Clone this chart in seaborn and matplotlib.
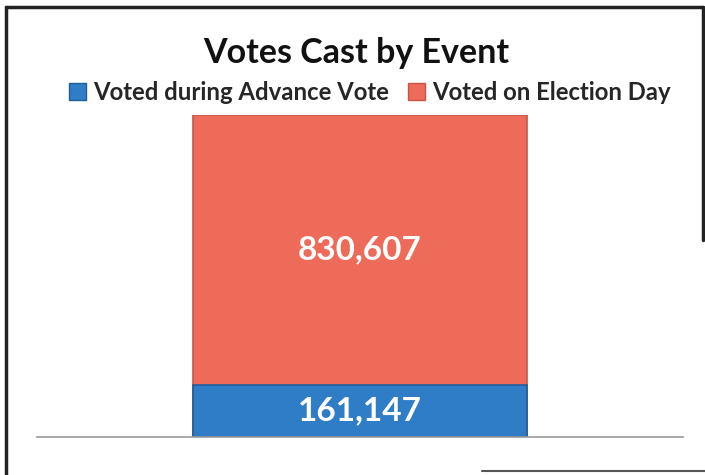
import pandas as pd
import matplotlib
matplotlib.use("Agg")
import matplotlib.pyplot as plt
import seaborn as sns
from matplotlib.patches import Patch

# data
series = ["Voted during Advance Vote", "Voted on Election Day"]
votes = [161147, 830607]
colors = ["#2F7DC6", "#EE6A59"]
edge_colors = ["#1F5E9A", "#C4564A"]

sns.set_theme(style="white")
plt.rcParams['font.family'] = ['Lato', 'DejaVu Sans']

total = sum(votes)
df = pd.DataFrame({"event": ["All"], "advance": [votes[0]], "total": [total]})

fig = plt.figure(figsize=(7.05, 4.75), dpi=100)
fig.patch.set_facecolor("white")
ax = fig.add_axes([37 / 705, (475 - 437) / 475, 646 / 705, 322 / 475])

# stacked bar: full total in red, advance vote on top of it in blue
sns.barplot(data=df, x="event", y="total", color=colors[1], width=0.517,
            edgecolor=edge_colors[1], linewidth=1.2, saturation=1, ax=ax)
sns.barplot(data=df, x="event", y="advance", color=colors[0], width=0.517,
            edgecolor=edge_colors[0], linewidth=1.2, saturation=1, ax=ax)

ax.set_xlim(-0.5, 0.5)
ax.set_ylim(0, total)
ax.set_xlabel("")
ax.set_ylabel("")
ax.set_xticks([])
ax.set_yticks([])
for s in ["top", "left", "right"]:
    ax.spines[s].set_visible(False)
ax.spines["bottom"].set_color("#9A9A9A")
ax.spines["bottom"].set_linewidth(1.2)
ax.set_facecolor("white")

# value labels
ax.text(0, votes[0] / 2, f"{votes[0]:,}", ha="center", va="center",
        color="white", fontsize=24, fontweight="bold")
ax.text(0, votes[0] + votes[1] / 2, f"{votes[1]:,}", ha="center", va="center",
        color="white", fontsize=24, fontweight="bold")

fig.text(0.506, 1 - 53 / 475, "Votes Cast by Event", ha="center", va="center",
         fontsize=24.5, fontweight="bold", color="#111111")

handles = [Patch(facecolor=c, edgecolor=e) for c, e in zip(colors, edge_colors)]
fig.legend(handles, series, loc="center", bbox_to_anchor=(0.525, 1 - 92 / 475),
           ncol=2, frameon=False, handlelength=0.7,
           handleheight=0.7, handletextpad=0.3, columnspacing=0.8,
           prop={"weight": "bold", "size": 17.2})

# scanned frame around the chart
frame = dict(color="#222222", linewidth=2.5, transform=fig.transFigure)
fig.add_artist(plt.Line2D([6 / 705, 703 / 705], [1 - 7 / 475, 1 - 7 / 475], **frame))
fig.add_artist(plt.Line2D([6 / 705, 6 / 705], [1 - 7 / 475, 0], **frame))
fig.add_artist(plt.Line2D([703 / 705, 703 / 705], [1 - 7 / 475, 1 - 240 / 475], **frame))
fig.add_artist(plt.Line2D([482 / 705, 705 / 705], [1 - 471 / 475, 1 - 471 / 475],
                          color="#555555", linewidth=1.5, transform=fig.transFigure))

fig.savefig("out.png", dpi=100)
